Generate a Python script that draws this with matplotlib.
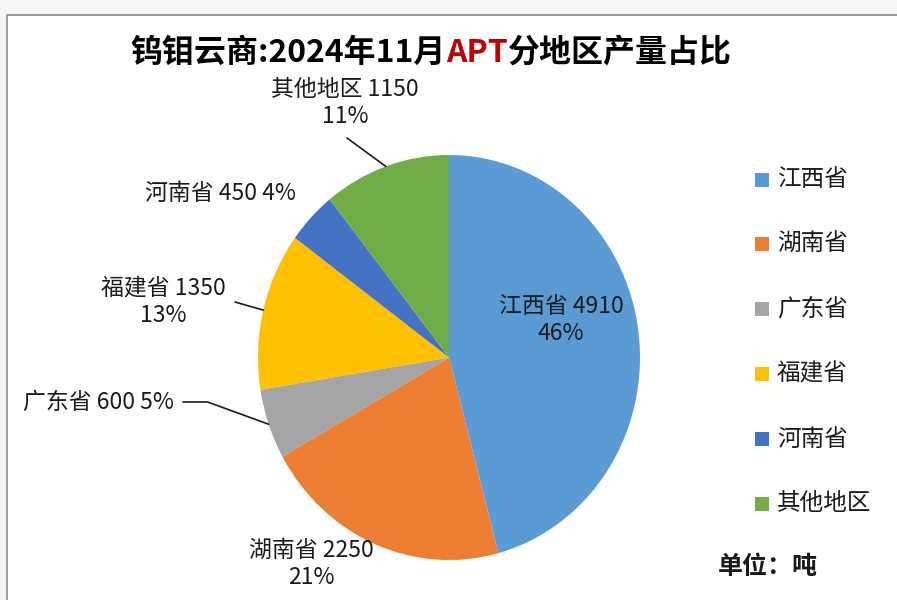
import numpy as np
import matplotlib.pyplot as plt
from matplotlib.patches import Rectangle

plt.rcParams['font.family'] = ['Noto Sans CJK SC', 'DejaVu Sans']

regions = ['江西省', '湖南省', '广东省', '福建省', '河南省', '其他地区']
output = [4910, 2250, 600, 1350, 450, 1150]
pct_labels = ['46%', '21%', '5%', '13%', '4%', '11%']
colors = ['#5B9BD5', '#ED7D31', '#A5A5A5', '#FFC000', '#4472C4', '#70AD47']

W, H = 897, 600
fig = plt.figure(figsize=(W / 100, H / 100), dpi=100)
fig.patch.set_facecolor('#f6f6f6')
fig.patches.append(Rectangle((7 / W, -0.01), 1.0, 1 - 15 / H + 0.01, transform=fig.transFigure,
                             facecolor='white', edgecolor='#8c8c8c', linewidth=1.2, zorder=-10))


def fx(px):
    return px / W


def fy(py):
    return 1 - py / H


# pie axes (bounding box of the pie in pixels)
ax = fig.add_axes([fx(258), fy(560), fx(640) - fx(258), fy(155) - fy(560)])
ax.set_zorder(1)
wedges, _ = ax.pie(output, colors=colors, startangle=90, counterclock=False, radius=1,
                   wedgeprops=dict(linewidth=0))
ax.set_aspect('auto')
ax.set_xlim(-1, 1)
ax.set_ylim(-1, 1)
ax.axis('off')

lab_fs = 16.5
# data labels: text positions in pixels
label_pos = {
    '江西省': (561, 320, True),
    '湖南省': (311, 564, True),
    '广东省': (98, 402, False),
    '福建省': (163, 302, True),
    '河南省': (220, 193, False),
    '其他地区': (345, 103, True),
}
for name, val, pct in zip(regions, output, pct_labels):
    x, y, two = label_pos[name]
    txt = f'{name} {val}\n{pct}' if two else f'{name} {val} {pct}'
    fig.text(fx(x), fy(y), txt, ha='center', va='center', fontsize=lab_fs,
             color='#1a1a1a', linespacing=1.25, zorder=5)

# leader lines
total = sum(output)
cum = np.cumsum([0] + output)
mids = {r: 90 - 360 * (cum[i] + output[i] / 2) / total for i, r in enumerate(regions)}

line_kw = dict(arrowstyle='-', color='#1a1a1a', lw=1.2, shrinkA=0, shrinkB=0)
a = np.deg2rad(mids['其他地区'])
ax.annotate('', xy=(np.cos(a), np.sin(a)), xycoords='data',
            xytext=(fx(347), fy(138)), textcoords='figure fraction', arrowprops=line_kw)
a = np.deg2rad(mids['福建省'])
ax.annotate('', xy=(np.cos(a), np.sin(a)), xycoords='data',
            xytext=(fx(235), fy(302)), textcoords='figure fraction', arrowprops=line_kw)
a = np.deg2rad(mids['广东省'])
ax.annotate('', xy=(np.cos(a), np.sin(a)), xycoords='data',
            xytext=(fx(183), fy(402)), textcoords='figure fraction',
            arrowprops=dict(line_kw, connectionstyle='angle,angleA=0,angleB=160,rad=0'))

# legend
leg_y = [180, 244, 309, 374, 439, 504]
for name, c, y in zip(regions, colors, leg_y):
    fig.patches.append(Rectangle((fx(755), fy(y + 7)), fx(14), 14 / H, transform=fig.transFigure,
                                 facecolor=c, edgecolor='none'))
    fig.text(fx(777), fy(y), name, ha='left', va='center', fontsize=17, color='#1a1a1a')

fig.text(fx(718), fy(567), '单位：吨', ha='left', va='center', fontsize=18,
         fontweight='bold', color='#1a1a1a')

# title with red "APT"
parts = [('钨钼云商:2024年11月', '#000000'), ('APT', '#C00000'), ('分地区产量占比', '#000000')]
renderer = fig.canvas.get_renderer()
texts = []
for s, c in parts:
    t = fig.text(0, fy(53), s, ha='left', va='center', fontsize=23, fontweight='bold', color=c)
    texts.append(t)
widths = [t.get_window_extent(renderer).width for t in texts]
x0 = 431 - sum(widths) / 2
for t, w in zip(texts, widths):
    t.set_x(x0 / W)
    x0 += w

fig.savefig('out.png', dpi=100, facecolor=fig.get_facecolor())
